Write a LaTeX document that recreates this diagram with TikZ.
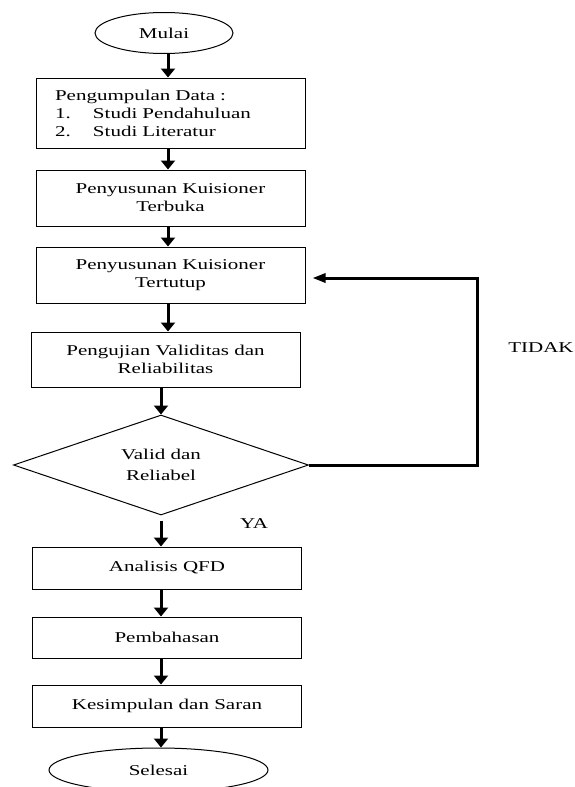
\documentclass[tikz,border=0pt]{standalone}
\usepackage{fontspec}
\setmainfont{Liberation Serif}[FakeStretch=1.4]
\usetikzlibrary{shapes.geometric,arrows.meta}
\begin{document}
\begin{tikzpicture}[x=1pt,y=-1pt,
  txt/.style={font=\fontsize{15}{18}\selectfont},
  box/.style={draw,line width=1pt,minimum width=269pt,inner sep=0pt,align=center,txt},
  term/.style={draw,ellipse,line width=1pt,inner sep=0pt,txt},
  decision/.style={draw,diamond,line width=1pt,minimum width=295pt,minimum height=100pt,shape aspect=2.95,inner sep=0pt,align=center,font=\fontsize{15}{21}\selectfont},
  arr/.style={line width=3pt,-{Triangle[width=14pt,length=9pt]}},
  back/.style={line width=3pt,-{Triangle[width=9pt,length=13pt]}},
  lbl/.style={txt}]
\useasboundingbox (0,0) rectangle (575,787);
\fill[white] (0,0) rectangle (575,787);

\coordinate (su) at (168,0);
\coordinate (sl) at (161,0);

\node[term,minimum width=138pt,minimum height=41pt] (mulai) at (164,33) {Mulai};
\node[box,minimum height=70pt,text width=231pt,inner xsep=19pt,align=left] (b1) at (170.5,113)
  {Pengumpulan Data :\\\makebox[38pt][l]{1.}Studi Pendahuluan\\\makebox[38pt][l]{2.}Studi Literatur};
\node[box,minimum height=56pt] (b2) at (170.5,198) {Penyusunan Kuisioner\\Terbuka};
\node[box,minimum height=56pt] (b3) at (170.5,275) {Penyusunan Kuisioner\\Tertutup};
\node[box,minimum height=55pt] (b4) at (165.5,359.5) {Pengujian Validitas dan\\Reliabilitas};
\node[decision] (dia) at (161,465) {Valid dan\\Reliabel};
\node[box,minimum height=42pt] (b5) at (167,568) {Analisis QFD};
\node[box,minimum height=41pt] (b6) at (167,637.5) {Pembahasan};
\node[box,minimum height=42pt] (b7) at (167,706) {Kesimpulan dan Saran};
\node[term,minimum width=219pt,minimum height=44pt] (selesai) at (158.5,770) {Selesai};

\node[lbl] (tidak) at (541,348) {TIDAK};
\node[lbl] (ya) at (254,524) {YA};

\draw[arr] (mulai.south -| su) -- (b1.north -| su);
\draw[arr] (b1.south -| su) -- (b2.north -| su);
\draw[arr] (b2.south -| su) -- (b3.north -| su);
\draw[arr] (b3.south -| su) -- (b4.north -| su);
\draw[arr] (b4.south -| dia.north) -- (dia.north);
\draw[arr] (dia.south) ++(0,5) -- (b5.north -| dia.south);
\draw[arr] (b5.south -| sl) -- (b6.north -| sl);
\draw[arr] (b6.south -| sl) -- (b7.north -| sl);
\draw[arr] (b7.south -| sl) -- (selesai.north -| sl);

\coordinate (bk) at (477,0);
\draw[back] (dia.east) -- (dia.east -| bk) -- (bk |- 0,278) -- ([xshift=7pt]b3.east |- 0,278);
\end{tikzpicture}
\end{document}
